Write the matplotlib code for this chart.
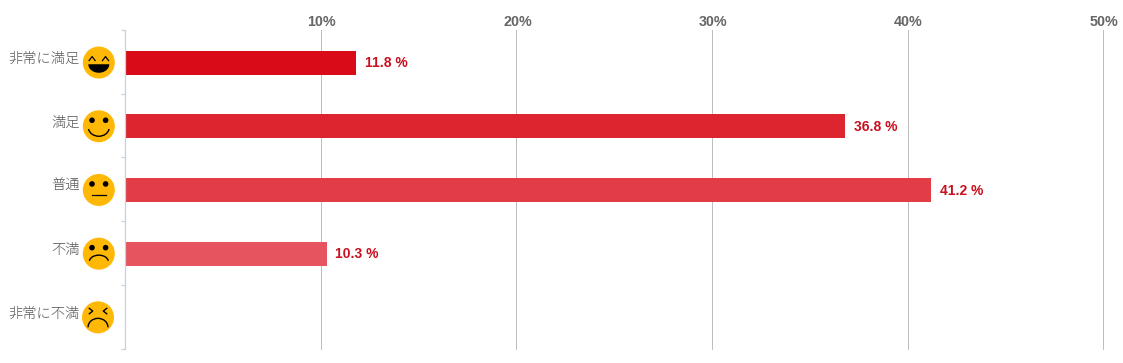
import matplotlib
matplotlib.use("Agg")
import matplotlib.pyplot as plt
import numpy as np
from matplotlib.patches import Circle, Arc, Polygon
from matplotlib.transforms import ScaledTranslation

categories = ["非常に満足", "満足", "普通", "不満", "非常に不満"]
values = [11.8, 36.8, 41.2, 10.3, 0]
value_labels = ["11.8 %", "36.8 %", "41.2 %", "10.3 %", None]
bar_colors = ["#D90B18", "#DD2530", "#E23C47", "#E5545F", "#E86C75"]
xticks = [10, 20, 30, 40, 50]
xticklabels = ["10%", "20%", "30%", "40%", "50%"]
faces = ["laugh", "smile", "neutral", "sad", "cry"]

W, H = 1123, 363
fig = plt.figure(figsize=(W / 100, H / 100), dpi=100)
fig.patch.set_facecolor("white")
ax = fig.add_axes([125.2 / W, 1 - 348.5 / H, (1103.2 - 125.2) / W, (348.5 - 30) / H])
ax.set_xlim(0, 50)
ax.set_ylim(5, 0)
ypos = np.arange(len(categories)) + 0.5
row_h = (348.5 - 30) / 5
ax.grid(axis="x", color="#BDBDBD", lw=0.72, clip_on=False)
ax.set_axisbelow(True)
ax.barh(ypos + 0.7 / row_h, values, height=24 / row_h, color=bar_colors)

for s in ["top", "right", "bottom"]:
    ax.spines[s].set_visible(False)
ax.spines["left"].set_color("#C5D2DC")
ax.spines["left"].set_linewidth(0.9)

ax.xaxis.tick_top()
ax.set_xticks(xticks)
ax.set_xticklabels(xticklabels, fontfamily="Liberation Sans", fontweight="bold",
                   fontsize=10.3, color="#666666")
ax.tick_params(axis="x", length=0, pad=1)
for lab in ax.get_xticklabels():
    lab.set_transform(lab.get_transform() + ScaledTranslation(1 / 100, 0, fig.dpi_scale_trans))
ax.set_yticks(np.arange(6))
ax.set_yticklabels([])
ax.tick_params(axis="y", length=3.2, width=0.9, color="#C5D2DC")

for y, v, lab in zip(ypos, values, value_labels):
    if lab:
        ax.annotate(lab, (v, y), xytext=(8.5, -1.5), textcoords="offset pixels",
                    va="center", ha="left", fontfamily="Liberation Sans",
                    fontweight="bold", fontsize=10, color="#C9101F")

# overlay in pixel coordinates for the category faces and labels
ov = fig.add_axes([0, 0, 1, 1], facecolor="none")
ov.set_xlim(0, W)
ov.set_ylim(H, 0)
ov.axis("off")

def row_y(y):
    return H - ax.transData.transform((0, y))[1]

def eyes(cx, cy, dy=-6, dx=6.8):
    for s in (-1, 1):
        ov.add_patch(Circle((cx + s * dx, cy + dy), 2.8, color="black", lw=0))

for i, (name, face) in enumerate(zip(categories, faces)):
    cy = row_y(ypos[i]) + 0.7
    cx = 98 if i == 4 else 98.8
    ov.text(80, cy - 4, name, ha="right", va="center", fontsize=10.3,
            fontfamily="Noto Sans CJK JP", fontweight="light", color="#555555")
    ov.add_patch(Circle((cx, cy), 16, color="#FFB805", lw=0))
    if face == "laugh":
        t = np.linspace(0, np.pi, 40)
        ov.add_patch(Polygon(np.column_stack([cx + 10.5 * np.cos(t), cy + 1.7 + 8.5 * np.sin(t)]),
                             closed=True, color="black", lw=0))
        for s in (-1, 1):
            ov.plot([cx + s * 6.7 - 3, cx + s * 6.7, cx + s * 6.7 + 3],
                    [cy - 2, cy - 6, cy - 2], color="black", lw=0.9)
    elif face == "smile":
        eyes(cx, cy)
        ov.add_patch(Arc((cx, cy + 1), 21, 18, theta1=10, theta2=170, color="black", lw=1.0))
    elif face == "neutral":
        eyes(cx, cy)
        ov.plot([cx - 7, cx + 7], [cy + 5.5, cy + 5.5], color="black", lw=0.9)
    elif face == "sad":
        eyes(cx, cy)
        ov.add_patch(Arc((cx, cy + 8), 19, 13, theta1=185, theta2=355, color="black", lw=1.0))
    else:
        for s in (-1, 1):
            ov.plot([cx + s * 8.7, cx + s * 5.3, cx + s * 8.7],
                    [cy - 9, cy - 6.3, cy - 3.6], color="black", lw=1.0)
        ov.add_patch(Arc((cx, cy + 10), 20, 18, theta1=180, theta2=360, color="black", lw=1.0))

fig.savefig("out.png", dpi=100)
